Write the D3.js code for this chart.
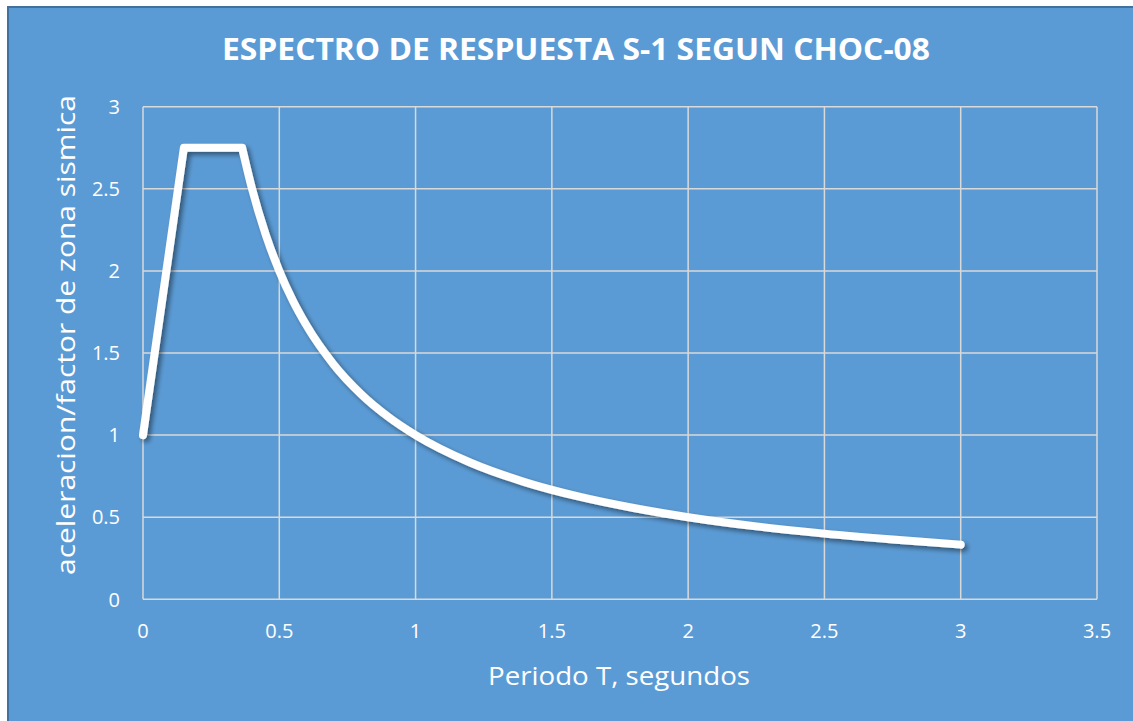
<!DOCTYPE html>
<html>
<head>
<meta charset="utf-8">
<script src="https://cdn.jsdelivr.net/npm/d3@7/dist/d3.min.js"></script>
<style>
  html, body { margin: 0; padding: 0; background: #ffffff; }
  svg { display: block; }
</style>
</head>
<body>
<svg id="chart" width="1133" height="721"></svg>
<script>
// Response spectrum S-1 (CHOC-08): period T in seconds vs normalised acceleration
// Rising branch and plateau (straight segments)
const periodsRise = [0, 0.15, 0.3636];
const accelRise   = [1.0, 2.75, 2.75];
// Descending branch (smooth)
const periodsFall = [0.3636, 0.4, 0.45, 0.5, 0.55, 0.6, 0.7, 0.8, 0.9, 1.0,
                     1.2, 1.4, 1.6, 1.8, 2.0, 2.25, 2.5, 2.75, 3.0];
const accelFall   = [2.75, 2.5, 2.222, 2.0, 1.818, 1.667, 1.429, 1.25, 1.111, 1.0,
                     0.833, 0.714, 0.625, 0.556, 0.5, 0.444, 0.4, 0.364, 0.333];
const xTicks = [0, 0.5, 1, 1.5, 2, 2.5, 3, 3.5];
const yTicks = [0, 0.5, 1, 1.5, 2, 2.5, 3];

const titleText = "ESPECTRO DE RESPUESTA S-1 SEGUN CHOC-08";
const xTitle = "Periodo T, segundos";
const yTitle = "aceleracion/factor de zona sismica";

const W = 1133, H = 721;
const bg = "#5B9BD5", frame = "#41719C", grid = "#D9D9D9";
const plot = { left: 143, right: 1097, top: 106.7, bottom: 599.3 };

const svg = d3.select("#chart");

// chart area background with its darker outline
svg.append("rect").attr("x", 8).attr("y", 7).attr("width", W).attr("height", H)
  .attr("fill", bg).attr("stroke", frame).attr("stroke-width", 2);

const x = d3.scaleLinear().domain([0, 3.5]).range([plot.left, plot.right]);
const y = d3.scaleLinear().domain([0, 3]).range([plot.bottom, plot.top]);

// gridlines
const g = svg.append("g");
g.selectAll("line.v").data(xTicks).join("line")
  .attr("x1", d => x(d)).attr("x2", d => x(d))
  .attr("y1", plot.top).attr("y2", plot.bottom)
  .attr("stroke", grid).attr("stroke-width", 1.5);
g.selectAll("line.h").data(yTicks).join("line")
  .attr("x1", plot.left).attr("x2", plot.right)
  .attr("y1", d => y(d)).attr("y2", d => y(d))
  .attr("stroke", grid).attr("stroke-width", 1.5);

// tick labels
const tickFont = "'Open Sans', 'Noto Sans', sans-serif";
svg.append("g").selectAll("text").data(xTicks).join("text")
  .attr("x", d => x(d)).attr("y", 638)
  .attr("text-anchor", "middle")
  .attr("font-family", tickFont).attr("font-size", 20).attr("fill", "#ffffff")
  .text(d => d);
svg.append("g").selectAll("text").data(yTicks).join("text")
  .attr("x", 120).attr("y", d => y(d)).attr("dy", "0.36em")
  .attr("text-anchor", "end")
  .attr("font-family", tickFont).attr("font-size", 20).attr("fill", "#ffffff")
  .text(d => d);

// drop shadow for the spectrum line
const defs = svg.append("defs");
const f = defs.append("filter").attr("id", "shadow")
  .attr("x", "-10%").attr("y", "-10%").attr("width", "120%").attr("height", "120%");
f.append("feDropShadow").attr("dx", 3).attr("dy", 3).attr("stdDeviation", 2.5)
  .attr("flood-color", "#000000").attr("flood-opacity", 0.45);

const rise = periodsRise.map((t, i) => [t, accelRise[i]]);
const fall = periodsFall.map((t, i) => [t, accelFall[i]]);
const straight = d3.line().x(d => x(d[0])).y(d => y(d[1])).curve(d3.curveLinear);
const smooth = d3.line().x(d => x(d[0])).y(d => y(d[1])).curve(d3.curveMonotoneX);
svg.append("path")
  .attr("d", straight(rise) + smooth(fall))
  .attr("fill", "none").attr("stroke", "#ffffff").attr("stroke-width", 8)
  .attr("stroke-linejoin", "round").attr("stroke-linecap", "round")
  .attr("filter", "url(#shadow)");

// titles
svg.append("text").attr("x", 576).attr("y", 60)
  .attr("text-anchor", "middle")
  .attr("font-family", "'Open Sans', sans-serif").attr("font-weight", "bold")
  .attr("font-size", 31).attr("fill", "#ffffff")
  .attr("textLength", 708).attr("lengthAdjust", "spacingAndGlyphs")
  .text(titleText);

svg.append("text").attr("x", 619).attr("y", 685)
  .attr("text-anchor", "middle")
  .attr("font-family", "'Open Sans', sans-serif")
  .attr("font-size", 26).attr("fill", "#ffffff")
  .attr("textLength", 262).attr("lengthAdjust", "spacingAndGlyphs")
  .text(xTitle);

svg.append("text")
  .attr("transform", "translate(75,335) rotate(-90)")
  .attr("text-anchor", "middle")
  .attr("font-family", "'Open Sans', sans-serif")
  .attr("font-size", 26).attr("fill", "#ffffff")
  .attr("textLength", 480).attr("lengthAdjust", "spacingAndGlyphs")
  .text(yTitle);
</script>
</body>
</html>
